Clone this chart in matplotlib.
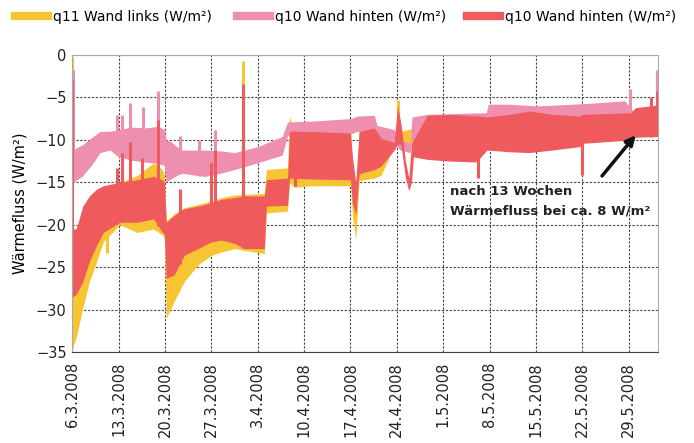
import matplotlib
matplotlib.use("Agg")
import matplotlib.pyplot as plt
from matplotlib.lines import Line2D
import numpy as np
import pandas as pd

# Wärmefluss-Messung, Tage ab 6.3.2008
start = pd.Timestamp("2008-03-06")

# q11 Wand links (gelb): Tag, obere / untere Hüllkurve
gelb_tag = [0.0, 0.6, 1.6, 2.6, 3.7, 4.7, 5.7, 7.2, 9.8, 12.3, 13.6, 13.9, 14.2, 15.4, 16.9, 19.0,
            21.0, 22.5, 24.5, 29.0, 29.3, 32.5, 32.8, 33.5, 36.0, 42.0, 42.3, 42.8, 43.3, 45.6,
            46.6, 48.6, 49.5, 55.0, 65.0, 75.0, 88.4]
gelb_oben = [-20.5, -20.5, -18.5, -17.2, -16.3, -15.8, -15.5, -15.0, -14.2, -12.7, -13.5, -14.0,
             -19.5, -18.7, -18.0, -17.6, -17.2, -16.8, -16.5, -16.3, -13.5, -13.3, -7.3, -8.8,
             -8.9, -9.0, -13.0, -17.0, -9.0, -8.6, -9.5, -10.0, -9.0, -8.0, -8.0, -8.0, -7.0]
gelb_unten = [-34.5, -33.3, -29.8, -26.7, -24.3, -22.0, -21.2, -20.0, -20.9, -20.5, -21.2, -21.5,
              -31.0, -29.0, -26.7, -24.7, -23.6, -23.2, -22.8, -23.4, -18.6, -18.4, -15.0, -15.6,
              -15.4, -15.4, -19.0, -21.8, -14.8, -14.5, -14.2, -10.8, -10.5, -11.0, -10.5, -10.0, -9.0]
gelb_spitzen = [(0.02, -0.3), (5.2, -23.3), (25.8, -0.7), (49.1, -5.3)]

# q10 Wand hinten (rosa)
rosa_tag = [0.0, 0.5, 1.5, 3.0, 4.2, 5.7, 7.0, 9.0, 11.0, 13.0, 13.9, 14.2, 14.9, 16.4, 18.0, 20.0,
            22.5, 24.5, 28.0, 31.7, 32.5, 36.0, 40.0, 42.0, 43.0, 45.6, 46.0, 47.6, 48.6, 49.5,
            51.0, 51.3, 53.6, 58.0, 62.5, 62.8, 66.0, 70.0, 73.0, 78.0, 83.4, 84.5, 88.0, 88.4]
rosa_oben = [-11.5, -11.0, -10.6, -9.7, -9.0, -9.0, -8.8, -8.5, -8.6, -8.4, -8.8, -10.0, -10.2,
             -11.2, -11.2, -11.2, -11.3, -11.5, -10.8, -9.6, -7.9, -7.8, -7.6, -7.5, -7.2, -7.1,
             -8.3, -8.6, -8.8, -10.0, -10.4, -7.3, -7.0, -6.9, -6.8, -5.8, -5.8, -6.0, -5.9,
             -5.7, -5.4, -6.5, -6.3, -6.3]
rosa_unten = [-15.0, -14.8, -14.3, -12.9, -11.5, -11.2, -12.0, -12.4, -12.6, -12.8, -13.0, -15.0,
              -14.6, -13.9, -14.1, -14.3, -13.9, -13.5, -12.7, -11.8, -9.5, -9.4, -9.3, -9.3,
              -9.0, -8.8, -9.8, -10.0, -10.4, -11.2, -11.5, -10.0, -9.8, -9.6, -9.5, -8.8, -8.8,
              -8.8, -8.6, -8.5, -8.4, -8.6, -8.4, -8.4]
rosa_spitzen = [(0.05, -1.8), (6.7, -7.1), (7.5, -7.1), (8.8, -5.7), (10.7, -6.1), (12.9, -4.2),
                (16.2, -9.6), (19.2, -10.0), (21.5, -8.8), (84.2, -4.0), (88.3, -1.8)]

# q10 Wand hinten (rot)
rot_tag = [0.0, 0.6, 1.6, 2.6, 3.7, 4.7, 7.2, 9.8, 12.3, 13.6, 13.9, 14.2, 15.4, 16.9, 19.0, 21.0,
           22.5, 24.5, 26.0, 29.0, 29.3, 32.5, 32.8, 36.0, 42.0, 42.3, 42.8, 43.3, 45.6, 46.6,
           48.6, 49.1, 49.6, 50.3, 50.8, 51.2, 51.5, 53.6, 57.0, 61.0, 62.6, 66.0, 69.0, 72.4,
           76.6, 77.2, 84.4, 85.0, 88.4]
rot_oben = [-20.5, -20.5, -17.8, -16.6, -15.8, -15.4, -15.0, -14.7, -14.3, -14.7, -15.0, -19.7,
            -18.9, -18.1, -17.8, -17.4, -17.0, -16.8, -16.6, -16.6, -14.7, -14.5, -9.0, -9.0,
            -9.2, -12.0, -15.0, -9.0, -8.6, -9.8, -10.3, -6.0, -8.0, -12.5, -14.5, -10.5, -10.0,
            -7.1, -7.0, -7.2, -7.3, -7.0, -6.6, -7.0, -7.2, -7.0, -6.8, -6.2, -5.9]
rot_unten = [-28.5, -28.2, -26.7, -24.3, -22.4, -20.9, -19.7, -19.7, -19.3, -20.9, -21.0, -26.3,
             -25.9, -23.6, -22.8, -22.0, -21.8, -22.2, -22.8, -22.8, -17.8, -17.7, -14.5, -14.6,
             -14.7, -17.5, -18.9, -14.0, -13.5, -13.1, -11.2, -10.5, -10.5, -14.5, -16.0, -15.0,
             -12.0, -12.3, -12.5, -12.6, -11.2, -11.4, -11.5, -11.2, -10.8, -10.4, -10.0, -9.7,
             -9.6]
rot_spitzen = [(0.02, -3.0), (6.7, -13.3), (7.5, -11.6), (8.8, -10.2), (10.6, -12.1), (13.0, -7.7),
               (16.2, -15.8), (21.0, -12.7), (21.5, -11.2), (25.8, -3.4), (33.7, -15.4),
               (61.2, -14.5), (76.9, -14.1), (87.4, -5.0), (88.3, -4.2)]

serien = [
    ("q11 Wand links (W/m²)", "#f7c432", gelb_tag, gelb_oben, gelb_unten, gelb_spitzen),
    ("q10 Wand hinten (W/m²)", "#ee8fb0", rosa_tag, rosa_oben, rosa_unten, rosa_spitzen),
    ("q10 Wand hinten (W/m²)", "#ef5a5c", rot_tag, rot_oben, rot_unten, rot_spitzen),
]

wochen = pd.date_range(start, periods=13, freq="7D")
wochen_labels = [f"{d.day}.{d.month}.{d.year}" for d in wochen]

fig = plt.figure(figsize=(6.94, 4.43), dpi=100)
ax = fig.add_axes([0.104, 0.205, 0.844, 0.671])

handles = []
for name, farbe, tag, oben, unten, spitzen in serien:
    x = start + pd.to_timedelta(tag, unit="D")
    ax.fill_between(x, unten, oben, color=farbe, lw=0, zorder=2)
    for t, v in spitzen:
        o = np.interp(t, tag, oben)
        u = np.interp(t, tag, unten)
        y0 = u if v > o else o
        ax.vlines(start + pd.Timedelta(days=t), min(v, y0), max(v, y0), color=farbe, lw=2.2, zorder=2)
    handles.append(Line2D([], [], color=farbe, lw=6))

ax.set_ylim(-35, 0)
ax.set_xlim(start, start + pd.Timedelta(days=88.4))
ax.set_yticks(range(-35, 1, 5))
ax.set_yticklabels([str(v).replace("-", "\u2212") for v in range(-35, 1, 5)], fontsize=10.5)
ax.set_xticks(wochen)
ax.set_xticklabels(wochen_labels, rotation=90, fontsize=10.5)
ax.tick_params(length=0, pad=4, colors="#222222")
ax.tick_params(axis="x", pad=7)
ax.grid(True, color="#444444", lw=0.8, ls=(0, (2, 1.5)), zorder=1)
for s in ["top", "right", "left"]:
    ax.spines[s].set_color("#aaaaaa")
ax.spines["bottom"].set_color("#444444")
ax.set_ylabel("Wärmefluss (W/m²)", fontsize=10.5, labelpad=6)

ax.annotate("", xy=(start + pd.Timedelta(days=85.3), -9.2),
            xytext=(start + pd.Timedelta(days=79.7), -14.5),
            arrowprops=dict(arrowstyle="-|>", color="#111111", lw=2.5, mutation_scale=14), zorder=5)
ax.text(start + pd.Timedelta(days=57.0), -15.3, "nach 13 Wochen\nWärmefluss bei ca. 8 W/m²",
        fontsize=9.5, fontweight="bold", color="#222222", va="top", ha="left", linespacing=1.7,
        zorder=5)

# Legende: drei Einträge nebeneinander
for h, s, lx in zip(handles, serien, [15, 237, 467]):
    fig.legend([h], [s[0]], loc="center left", bbox_to_anchor=(lx / 694, 1 - 17 / 443),
               frameon=False, fontsize=10, handlelength=2.4, handletextpad=0.35,
               borderpad=0, borderaxespad=0)

fig.savefig("out.png", dpi=100)
